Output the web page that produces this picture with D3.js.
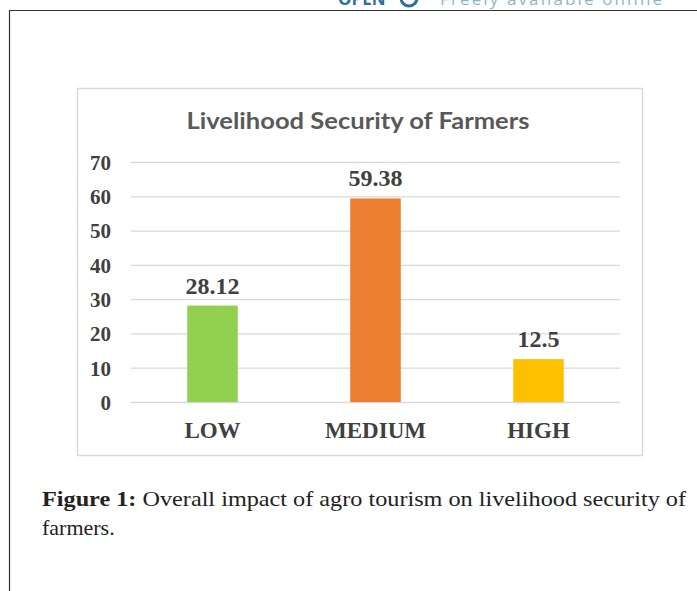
<!DOCTYPE html>
<html><head><meta charset="utf-8">
<script src="https://cdn.jsdelivr.net/npm/d3@7"></script>
<style>html,body{margin:0;padding:0;background:#fff;overflow:hidden}</style>
</head><body>
<script>
const categories = ["LOW", "MEDIUM", "HIGH"];
const values = [28.12, 59.38, 12.5];
const valueLabels = ["28.12", "59.38", "12.5"];
const barColors = ["#92d050", "#ed7d31", "#ffc000"];
const yTicks = [0, 10, 20, 30, 40, 50, 60, 70];
const chartTitle = "Livelihood Security of Farmers";

const W = 697, H = 591;
const svg = d3.select("body").append("svg").attr("width", W).attr("height", H);

// page header (cut off at the top edge, as in the source)
svg.append("text").attr("x", 338).attr("y", 5).attr("font-family", "Open Sans, sans-serif")
  .attr("font-size", 17).attr("font-weight", "bold").attr("fill", "#2f6f98").text("OPEN");
svg.append("circle").attr("cx", 409).attr("cy", -2).attr("r", 8).attr("fill", "none")
  .attr("stroke", "#2f6f98").attr("stroke-width", 3);
svg.append("text").attr("x", 440).attr("y", 5).attr("font-family", "Open Sans, sans-serif")
  .attr("font-size", 17).attr("fill", "#8fb4d0").attr("textLength", 222).text("Freely available online");

// outer frame
svg.append("path").attr("d", `M9.5,${H} V10.5 H${W}`).attr("fill", "none")
  .attr("stroke", "#333").attr("stroke-width", 1.2);

// chart box
svg.append("rect").attr("x", 77.5).attr("y", 88.5).attr("width", 565).attr("height", 367)
  .attr("fill", "#fff").attr("stroke", "#d9d9d9").attr("stroke-width", 1.5);

svg.append("text").attr("x", 358).attr("y", 129).attr("text-anchor", "middle")
  .attr("font-family", "Lato, 'Open Sans', sans-serif").attr("font-weight", "bold")
  .attr("font-size", 22).attr("fill", "#595959").attr("textLength", 343)
  .attr("lengthAdjust", "spacingAndGlyphs").text(chartTitle);

const x = d3.scaleBand().domain(categories).range([131, 620]).paddingInner(0.69).paddingOuter(0.345);
const y = d3.scaleLinear().domain([0, 70]).range([402, 162]);

// gridlines + y tick labels
const yAxis = d3.axisLeft(y).tickValues(yTicks).tickSize(-(620 - 131)).tickFormat(d3.format("d"));
const gy = svg.append("g").attr("transform", "translate(131,0)").call(yAxis);
gy.select(".domain").remove();
gy.selectAll(".tick line").attr("stroke", "#d9d9d9").attr("stroke-width", 1.3);
gy.selectAll(".tick text").attr("x", -20).attr("dy", "0.35em")
  .attr("font-family", "'Liberation Serif', 'Times New Roman', serif").attr("font-weight", "bold")
  .attr("font-size", 21).attr("fill", "#404040");

// bars
svg.selectAll("rect.bar").data(values).join("rect").attr("class", "bar")
  .attr("x", (d, i) => x(categories[i])).attr("width", x.bandwidth())
  .attr("y", d => y(d)).attr("height", d => y(0) - y(d))
  .attr("fill", (d, i) => barColors[i]);

// value labels
svg.selectAll("text.val").data(values).join("text").attr("class", "val")
  .attr("x", (d, i) => x(categories[i]) + x.bandwidth() / 2).attr("y", d => y(d) - 12)
  .attr("text-anchor", "middle")
  .attr("font-family", "'Liberation Serif', 'Times New Roman', serif").attr("font-weight", "bold")
  .attr("font-size", 24).attr("fill", "#404040").text((d, i) => valueLabels[i]);

// category axis
const xAxis = d3.axisBottom(x).tickSize(0);
const gx = svg.append("g").attr("transform", "translate(0,402)").call(xAxis);
gx.select(".domain").remove();
gx.selectAll(".tick text").attr("y", 36).attr("dy", 0)
  .attr("font-family", "'Liberation Serif', 'Times New Roman', serif").attr("font-weight", "bold")
  .attr("font-size", 23).attr("fill", "#404040");

// caption
const cap = svg.append("text").attr("x", 42).attr("y", 506)
  .attr("font-family", "'Liberation Serif', serif").attr("font-size", 22).attr("fill", "#222")
  .attr("textLength", 644).attr("lengthAdjust", "spacingAndGlyphs");
cap.append("tspan").attr("font-weight", "bold").text("Figure 1:");
cap.append("tspan").text(" Overall impact of agro tourism on livelihood security of");
svg.append("text").attr("x", 42).attr("y", 535)
  .attr("font-family", "'Liberation Serif', serif").attr("font-size", 22).attr("fill", "#222")
  .text("farmers.");
</script>
</body></html>
